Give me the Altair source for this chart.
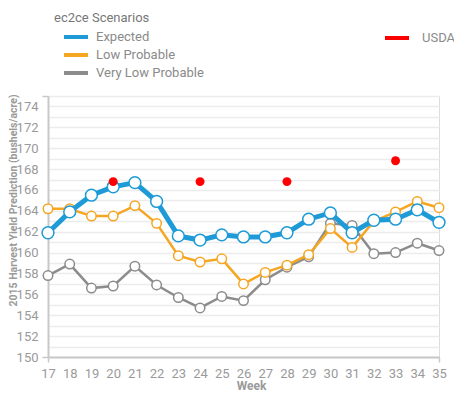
import altair as alt
import pandas as pd

weeks = list(range(17, 36))
expected = [161.9, 163.9, 165.5, 166.3, 166.7, 164.9, 161.6, 161.2, 161.7, 161.5,
            161.5, 161.9, 163.2, 163.8, 161.9, 163.1, 163.2, 164.1, 162.9]
low_probable = [164.2, 164.2, 163.5, 163.5, 164.5, 162.8, 159.7, 159.1, 159.4, 157.0,
                158.1, 158.8, 159.8, 162.3, 160.5, 163.0, 163.9, 164.9, 164.3]
very_low = [157.8, 158.9, 156.6, 156.8, 158.7, 156.9, 155.7, 154.7, 155.8, 155.4,
            157.4, 158.6, 159.6, 162.8, 162.6, 159.9, 160.0, 160.9, 160.2]
usda_weeks = [20, 24, 28, 33]
usda_values = [166.8, 166.8, 166.8, 168.8]

scenarios = ["Expected", "Low Probable", "Very Low Probable"]
colors = ["#1E9BD7", "#F5A623", "#8C8C8C"]
line_widths = {"Expected": 5, "Low Probable": 2.5, "Very Low Probable": 2.5}
point_sizes = {"Expected": 140, "Low Probable": 90, "Very Low Probable": 90}

rows = []
for name, vals in zip(scenarios, [expected, low_probable, very_low]):
    for w, v in zip(weeks, vals):
        rows.append({"Week": w, "Yield": v, "Scenario": name})
df = pd.DataFrame(rows)
usda_df = pd.DataFrame({"Week": usda_weeks, "Yield": usda_values, "Source": ["USDA"] * len(usda_weeks)})

FONT = "Roboto"
x_scale = alt.Scale(domain=[17, 35], nice=False, zero=False)
y_scale = alt.Scale(domain=[150, 175], nice=False, zero=False)

x_axis = alt.Axis(
    title="Week", values=weeks, format="d", grid=False, labelOverlap=False, labelFlush=False,
    labelFontSize=13, labelColor="#9a9a9a", labelFont=FONT, labelPadding=5,
    titleFontSize=12, titleColor="#9a9a9a", titleFont=FONT, titleFontWeight="bold",
    titleY=23, titleX=203, domainColor="#c8c8c8", domainWidth=2,
    tickColor="#c8c8c8", tickSize=5, tickWidth=1.5,
    tickOpacity=alt.ConditionalAxisNumber(
        condition={"test": "datum.value == 17 || datum.value == 35", "value": 1}, value=0),
)
y_axis = alt.Axis(
    title="2015 Harvest Yield Prediction (bushels/acre)",
    values=list(range(150, 176)), labelOverlap=False, labelFlush=False,
    labelExpr="datum.value % 2 == 0 && datum.value < 175 ? datum.label : ''",
    labelFontSize=13, labelColor="#9a9a9a", labelFont=FONT, labelPadding=4,
    titleFontSize=10.5, titleColor="#9a9a9a", titleFont=FONT, titleFontWeight="bold",
    titleX=-35, titleY=104, titleBaseline="middle", domainColor="#c8c8c8", domainWidth=2,
    gridColor="#ececec", gridWidth=1.5,
    tickColor="#c8c8c8", tickSize=6, tickWidth=1.5,
    tickOpacity=alt.ConditionalAxisNumber(
        condition={"test": "datum.value == 150 || datum.value == 175", "value": 1}, value=0),
)

color_scale = alt.Scale(domain=scenarios, range=colors)
scen_legend = alt.Legend(
    title="ec2ce Scenarios", orient="none", legendX=6, legendY=-84,
    titleAnchor="start", titleAlign="left",
    symbolType="M-1.5,0H1.5", symbolSize=256, symbolStrokeWidth=4, symbolOffset=12,
    titleFont=FONT, titleFontSize=13, titleFontWeight="normal", titleColor="#777777",
    labelFont=FONT, labelFontSize=13, labelColor="#8a8a8a", rowPadding=-1.5, titlePadding=2,
    labelOffset=10,
)

X = alt.X("Week:Q", scale=x_scale, axis=x_axis)
Y = alt.Y("Yield:Q", scale=y_scale, axis=y_axis)

layers = []
for i, name in enumerate(["Very Low Probable", "Low Probable", "Expected"]):
    sub = alt.Chart(df).transform_filter(alt.datum.Scenario == name)
    line = sub.mark_line(strokeWidth=line_widths[name]).encode(
        x=X, y=Y,
        color=alt.Color("Scenario:N", scale=color_scale, legend=scen_legend),
    )
    pts = sub.mark_circle(opacity=1, fill="white", size=point_sizes[name], strokeWidth=1.5).encode(
        x=X, y=Y,
        stroke=alt.Stroke("Scenario:N", scale=color_scale, legend=None),
    )
    layers += [line, pts]

scen_chart = alt.layer(*layers)

usda = alt.Chart(usda_df).mark_circle(size=80, opacity=1).encode(
    x=X, y=Y,
    color=alt.Color("Source:N", scale=alt.Scale(domain=["USDA"], range=["#FF0000"]),
                    legend=alt.Legend(title=None, orient="none", legendX=335, legendY=-72,
                                      symbolType="stroke", symbolSize=576, symbolStrokeWidth=4,
                                      symbolStrokeColor="#FF0000",
                                      labelFont=FONT, labelFontSize=13, labelColor="#8a8a8a",
                                      labelOffset=11)),
)

chart = alt.layer(scen_chart, usda).resolve_scale(color="independent", stroke="independent").properties(
    width=391, height=261,
    autosize=alt.AutoSizeParams(type="none"),
    padding={"left": 40, "top": 88, "right": 15, "bottom": 38},
).configure_view(stroke=None).configure(font=FONT).configure_axis(labelOverlap=False)

chart.save("out.html", embed_options={"renderer": "svg", "actions": False})
